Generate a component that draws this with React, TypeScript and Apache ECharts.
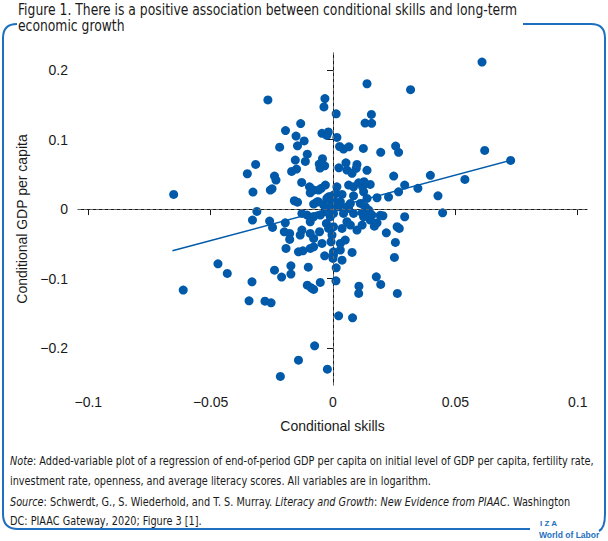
import React, { useEffect, useRef } from "react";
import * as echarts from "echarts";

// Conditional skills (x) and conditional GDP per capita (y)
const skills = [
  -0.0266, -0.0033, -0.0037, 0.0013, -0.0132, -0.0194, -0.0151, -0.0118, -0.0145, -0.0045,
  -0.0019, -0.0025, 0.0016, 0.0027, -0.0218, -0.0105, -0.0154, -0.0113, -0.0043, -0.0056,
  -0.0034, -0.0053, 0.0024, -0.0316, -0.035, -0.0239, -0.0233, -0.0169, -0.0149, -0.0128,
  -0.0327, -0.0256, -0.0249, -0.0651, -0.0096, -0.0079, -0.0093, -0.0059, -0.0031, -0.0048,
  0.0016, -0.0158, -0.0145, -0.0079, -0.0059, -0.0038, -0.0018, 0.0002, -0.0025, 0.0009,
  -0.0311, -0.0329, -0.0259, -0.0247, -0.0195, -0.0199, -0.0177, -0.0177, -0.0127, -0.0134,
  -0.0093, -0.0055, -0.0079, -0.0093, -0.0079, -0.0045, -0.0008, -0.0004, -0.0106, -0.0093,
  -0.0192, -0.0141, -0.0123, -0.0034, 0.0002, 0.0, -0.0027, -0.0011, -0.0018, 0.0002,
  -0.047, -0.0432, -0.0612, -0.0331, -0.0239, -0.021, -0.0172, -0.0172, -0.0101, -0.0105,
  -0.0089, -0.0079, -0.0052, 0.0013, 0.0012, -0.0343, -0.0278, -0.0253, 0.0023, -0.0075,
  -0.0141, -0.0023, -0.0215, 0.0609, 0.0139, 0.0317, 0.0157, 0.0131, 0.0158, 0.0043,
  0.0065, 0.0124, 0.0256, 0.0268, 0.0195, 0.062, 0.0726, 0.0053, 0.0057, 0.0078,
  0.0098, 0.0095, 0.0139, 0.0248, 0.0398, 0.0539, 0.0127, 0.0121, 0.0152, 0.0064,
  0.0084, 0.0105, 0.0084, 0.0293, 0.0268, 0.0347, 0.0227, 0.018, 0.0429, 0.0448,
  0.0013, 0.0037, -0.0011, 0.003, 0.0057, 0.0071, 0.0112, 0.0132, 0.0146, 0.0152,
  0.0119, 0.0193, 0.0293, 0.0125, 0.0139, 0.0002, -0.0025, -0.0065, -0.0004, 0.0023,
  0.0064, 0.0159, 0.0152, 0.0125, 0.0084, 0.0043, 0.0002, -0.0031, -0.0052, -0.0079,
  -0.0127, 0.0204, 0.018, 0.0169, 0.0119, 0.0098, 0.0071, 0.0057, 0.0037, 0.0218,
  0.0262, 0.0271, 0.0255, 0.0251, 0.005, 0.003, 0.0002, 0.003, 0.0037, 0.0078,
  0.0177, 0.0195, 0.0106, 0.0105, 0.0263, 0.008,
];
const gdp = [
  0.157, 0.159, 0.147, 0.137, 0.123, 0.113, 0.105, 0.098, 0.091, 0.109,
  0.111, 0.106, 0.103, 0.09, 0.089, 0.079, 0.0705, 0.0686, 0.0724, 0.0647,
  0.0623, 0.059, 0.0594, 0.0643, 0.0508, 0.0475, 0.0417, 0.0542, 0.0576, 0.0384,
  0.0245, 0.0273, 0.0292, 0.0211, 0.032, 0.0273, 0.0235, 0.0273, 0.0345, 0.0298,
  0.032, 0.012, 0.01, 0.0072, 0.0105, 0.0058, 0.0177, 0.013, 0.001, 0.0033,
  -0.0033, -0.0158, -0.0173, -0.0263, -0.0197, -0.0327, -0.035, -0.0436, -0.0302, -0.0374,
  -0.035, -0.0326, -0.0422, -0.0566, -0.0542, -0.0494, -0.047, -0.0374, -0.0086, -0.0182,
  -0.0566, -0.0614, -0.06, -0.0672, -0.0662, -0.071, -0.0206, -0.011, -0.0278, -0.0254,
  -0.0787, -0.0926, -0.1165, -0.1046, -0.0878, -0.0978, -0.0816, -0.0935, -0.0835, -0.1094,
  -0.1132, -0.1155, -0.1055, -0.0844, -0.1031, -0.1319, -0.1324, -0.1348, -0.1535, -0.1967,
  -0.2173, -0.2302, -0.2407, 0.2115, 0.1803, 0.1717, 0.1362, 0.1237, 0.1233, 0.0863,
  0.0896, 0.0873, 0.0906, 0.0816, 0.0816, 0.0844, 0.07, 0.0666, 0.0561, 0.0514,
  0.0643, 0.0586, 0.0557, 0.0475, 0.0485, 0.0427, 0.0393, 0.032, 0.0355, 0.0345,
  0.032, 0.0378, 0.0191, 0.0345, 0.0249, 0.0298, 0.0173, 0.0163, 0.0191, -0.0053,
  0.0226, 0.0211, 0.0177, 0.0105, 0.0033, 0.0082, 0.0082, 0.0033, -0.0014, -0.0062,
  -0.0053, -0.009, -0.011, 0.0249, 0.0154, 0.0201, 0.0154, 0.0105, 0.0082, 0.0033,
  0.001, -0.0086, -0.0158, -0.011, -0.0062, -0.0062, -0.0062, -0.0039, -0.0086, -0.011,
  -0.0062, -0.0096, -0.0197, -0.0245, -0.023, -0.0302, -0.023, -0.0182, -0.0278, -0.0341,
  -0.0254, -0.0278, -0.0479, -0.0695, -0.0446, -0.0494, -0.0614, -0.059, -0.0734, -0.0623,
  -0.0974, -0.1084, -0.1108, -0.1213, -0.1213, -0.1564,
];

// Fitted regression line end points
const fitSkills = [-0.0656, 0.0725];
const fitGdp = [-0.06, 0.07];

// Axis ticks
const xTicks = [-0.1, -0.05, 0, 0.05, 0.1];
const yTicks = [-0.2, -0.1, 0, 0.1, 0.2];

const titleLines = [
  "Figure 1. There is a positive association between conditional skills and long-term",
  "economic growth",
];
const noteLines = [
  "{i|Note}: Added-variable plot of a regression of end-of-period GDP per capita on initial level of GDP per capita, fertility rate,",
  "investment rate, openness, and average literacy scores. All variables are in logarithm.",
];
const sourceLines = [
  "{i|Source}: Schwerdt, G., S. Wiederhold, and T. S. Murray. {i|Literacy and Growth}: {i|New Evidence from PIAAC}. Washington",
  "DC: PIAAC Gateway, 2020; Figure 3 [1].",
];

const BLUE = "#005aa9";
const FRAME = "#1f6fc0";
const NARROW = "'DejaVu Sans Condensed', 'Liberation Sans Narrow', sans-serif";
const SANS = "'Liberation Sans', Arial, sans-serif";

const fmt = (v: number) => {
  if (Math.abs(v) < 1e-9) return "0";
  return (v < 0 ? "\u2212" : "") + String(Math.abs(v));
};

const framePath =
  "M 17 24 Q 3 24 3 38 L 3 514 Q 3 529 18 529 L 530 529 " +
  "M 523 24 L 591 24 Q 605 24 605 38 L 605 514 Q 605 528 599 531";

export default function App() {
  const ref = useRef<HTMLDivElement>(null);
  useEffect(() => {
    document.body.style.margin = "0";
    if (!ref.current) return;
    try {
      echarts.graphic.registerShape("frame", echarts.graphic.extendPath(framePath, {}));
    } catch (e) {}
    const chart = echarts.init(ref.current, undefined, { renderer: "svg" });
    const textLine = (text: string, x: number, y: number, size: number, sx = 1, extra: any = {}) => ({
      type: "text",
      x,
      y,
      scaleX: sx,
      silent: true,
      style: {
        text,
        fill: "#1a1a1a",
        fontFamily: NARROW,
        fontSize: size,
        verticalAlign: "middle",
        align: "left",
        rich: { i: { fontStyle: "italic", fontFamily: NARROW, fontSize: size, fill: "#1a1a1a" } },
        ...extra,
      },
    });
    chart.setOption({
      animation: false,
      textStyle: { fontFamily: SANS },
      grid: { left: 78, top: 53, right: 21, bottom: 156, containLabel: false },
      xAxis: {
        type: "value",
        min: -0.1042,
        max: 0.1038,
        name: "Conditional skills",
        nameLocation: "middle",
        nameGap: 34,
        nameTextStyle: { fontSize: 14, color: "#1a1a1a", fontFamily: SANS },
        axisLine: { show: true, lineStyle: { color: "#1a1a1a", width: 1 } },
        axisTick: { show: true, length: 6, inside: false, customValues: xTicks, lineStyle: { color: "#1a1a1a" } },
        axisLabel: { customValues: xTicks, formatter: (v: number) => fmt(v), fontSize: 14, color: "#1a1a1a", margin: 10 },
        splitLine: { show: false },
      },
      yAxis: {
        type: "value",
        min: -0.253,
        max: 0.2245,
        name: "Conditional GDP per capita",
        nameLocation: "middle",
        nameGap: 42,
        nameTextStyle: { fontSize: 14, color: "#1a1a1a", fontFamily: SANS },
        axisLine: { show: true, lineStyle: { color: "#1a1a1a", width: 1 } },
        axisTick: { show: true, length: 6, inside: false, customValues: yTicks, lineStyle: { color: "#1a1a1a" } },
        axisLabel: { customValues: yTicks, formatter: (v: number) => fmt(v), fontSize: 14, color: "#1a1a1a", margin: 10 },
        splitLine: { show: false },
      },
      series: [
        {
          type: "scatter",
          data: skills.map((x, i) => [x, gdp[i]]),
          symbolSize: 9,
          itemStyle: { color: BLUE, opacity: 1 },
          markLine: {
            silent: true,
            symbol: "none",
            label: { show: false },
            lineStyle: { color: "#666", type: [3, 3], width: 1 },
            data: [{ xAxis: 0 }, { yAxis: 0 }],
          },
          z: 3,
        },
        {
          type: "line",
          data: fitSkills.map((x, i) => [x, fitGdp[i]]),
          showSymbol: false,
          lineStyle: { color: BLUE, width: 1.5 },
          z: 4,
        },
      ],
      graphic: [
        { type: "frame", x: 0, y: 0, silent: true, style: { fill: "none", stroke: FRAME, lineWidth: 2 } },
        textLine(titleLines[0], 18, 9.5, 15, 0.917),
        textLine(titleLines[1], 18, 25.5, 15, 0.917),
        textLine(noteLines[0], 10, 461, 11.5, 0.94),
        textLine(noteLines[1], 10, 481, 11.5, 0.94),
        textLine(sourceLines[0], 10, 502, 11.5, 0.94),
        textLine(sourceLines[1], 10, 521, 11.5, 0.94),
        textLine("I Z A", 540, 523, 8, 1, { fill: FRAME, fontWeight: "bold", fontFamily: SANS }),
        textLine("World of Labor", 539, 535, 8.5, 1, { fill: FRAME, fontWeight: "bold", fontFamily: SANS }),
      ],
    });
    return () => chart.dispose();
  }, []);
  return <div ref={ref} style={{ width: 608, height: 541 }} />;
}
